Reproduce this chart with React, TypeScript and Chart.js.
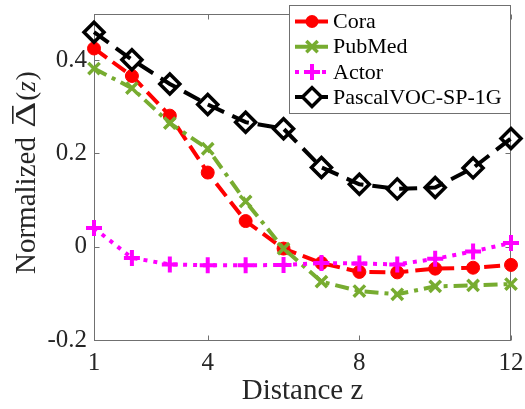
import React, { useEffect, useRef } from 'react';
import { Chart, registerables } from 'chart.js';

Chart.register(...registerables);

const distances = [1, 2, 3, 4, 5, 6, 7, 8, 9, 10, 11, 12];
const cora = [0.425, 0.366, 0.281, 0.159, 0.055, -0.004, -0.035, -0.054, -0.055, -0.047, -0.045, -0.039];
const pubmed = [0.382, 0.34, 0.265, 0.21, 0.097, -0.004, -0.075, -0.095, -0.102, -0.085, -0.083, -0.08];
const actor = [0.04, -0.024, -0.038, -0.04, -0.04, -0.039, -0.035, -0.036, -0.038, -0.026, -0.01, 0.008];
const pascal = [0.46, 0.401, 0.349, 0.305, 0.267, 0.253, 0.17, 0.134, 0.124, 0.127, 0.169, 0.232];
const xTicks = [1, 4, 8, 12];
const yTicks = [-0.2, 0, 0.2, 0.4];
const seriesNames = ['Cora', 'PubMed', 'Actor', 'PascalVOC-SP-1G'];

const SERIF = '"Liberation Serif", "DejaVu Serif", "Noto Serif", serif';
const AXIS = '#707070';
const TEXT = '#262626';

type Marker = 'circle' | 'crossRot' | 'cross' | 'rectRot';

function drawMarker(ctx: CanvasRenderingContext2D, style: Marker, x: number, y: number, r: number, color: string, lw: number) {
  ctx.save();
  ctx.setLineDash([]);
  ctx.strokeStyle = color;
  ctx.fillStyle = color;
  ctx.lineWidth = lw;
  ctx.beginPath();
  if (style === 'circle') {
    ctx.arc(x, y, r, 0, Math.PI * 2);
    ctx.fill();
  } else if (style === 'cross') {
    ctx.moveTo(x - r, y); ctx.lineTo(x + r, y);
    ctx.moveTo(x, y - r); ctx.lineTo(x, y + r);
    ctx.stroke();
  } else if (style === 'crossRot') {
    const d = r * Math.SQRT1_2;
    ctx.moveTo(x - d, y - d); ctx.lineTo(x + d, y + d);
    ctx.moveTo(x - d, y + d); ctx.lineTo(x + d, y - d);
    ctx.stroke();
  } else {
    ctx.moveTo(x - r, y); ctx.lineTo(x, y - r); ctx.lineTo(x + r, y); ctx.lineTo(x, y + r);
    ctx.closePath();
    ctx.stroke();
  }
  ctx.restore();
}

const framePlugin = {
  id: 'frame',
  beforeDatasetsDraw(chart: any) {
    const { ctx, chartArea } = chart;
    const { left, right, top, bottom } = chartArea;
    const L = Math.round(left) + 0.5, R = Math.round(right) - 0.5;
    const T = Math.round(top) + 0.5, B = Math.round(bottom) + 0.5;
    ctx.save();
    ctx.strokeStyle = AXIS;
    ctx.lineWidth = 1;
    ctx.setLineDash([]);
    ctx.strokeRect(L, T, R - L, B - T);
    const xs = chart.scales.x, ys = chart.scales.y;
    ctx.beginPath();
    for (const v of xTicks) {
      const px = Math.round(xs.getPixelForValue(v)) + 0.5;
      ctx.moveTo(px, B); ctx.lineTo(px, B - 5);
      ctx.moveTo(px, T); ctx.lineTo(px, T + 5);
    }
    for (const v of yTicks) {
      const py = Math.round(ys.getPixelForValue(v)) + 0.5;
      ctx.moveTo(L, py); ctx.lineTo(L + 5, py);
      ctx.moveTo(R, py); ctx.lineTo(R - 5, py);
    }
    ctx.stroke();
    ctx.restore();
  },
  afterDraw(chart: any) {
    const { ctx } = chart;
    // y-axis title
    ctx.save();
    ctx.fillStyle = TEXT;
    ctx.translate(35, 274);
    ctx.rotate(-Math.PI / 2);
    ctx.textAlign = 'left';
    ctx.textBaseline = 'alphabetic';
    ctx.font = `29px ${SERIF}`;
    let xPos = 0;
    const t1 = 'Normalized ';
    ctx.fillText(t1, xPos, 0);
    xPos += ctx.measureText(t1).width + 2;
    ctx.save();
    ctx.translate(xPos, 0);
    ctx.scale(1.35, 1);
    ctx.font = `30px ${SERIF}`;
    ctx.fillText('Δ', 0, 0);
    const dw = ctx.measureText('Δ').width;
    ctx.restore();
    const dW = dw * 1.35;
    ctx.fillRect(xPos + 4, -23, dW - 8, 1.6);
    xPos += dW + 1;
    ctx.font = `27px ${SERIF}`;
    ctx.fillText('(', xPos, 0);
    xPos += ctx.measureText('(').width;
    ctx.font = `italic 27px ${SERIF}`;
    ctx.fillText('z', xPos, 0);
    xPos += ctx.measureText('z').width + 1;
    ctx.font = `27px ${SERIF}`;
    ctx.fillText(')', xPos, 0);
    ctx.restore();

    // legend
    ctx.save();
    ctx.fillStyle = '#ffffff';
    ctx.fillRect(289.5, 5.5, 221, 108);
    ctx.strokeStyle = AXIS;
    ctx.lineWidth = 1;
    ctx.strokeRect(289.5, 5.5, 221, 108);
    const datasets = chart.data.datasets;
    datasets.forEach((ds: any, i: number) => {
      const y = 21.5 + i * 25.2;
      ctx.save();
      ctx.strokeStyle = ds.borderColor;
      ctx.lineWidth = 4;
      ctx.setLineDash(ds.legendDash || []);
      ctx.beginPath();
      ctx.moveTo(295, y);
      ctx.lineTo(328, y);
      ctx.stroke();
      ctx.restore();
      if (ds.pointStyle === 'rectRot') {
        ctx.fillStyle = '#fff';
        ctx.fillRect(303, y - 6, 16, 12);
      }
      drawMarker(ctx, ds.pointStyle, 312, y, ds.legendRadius, ds.borderColor, ds.pointBorderWidth);
      ctx.fillStyle = '#000';
      ctx.font = `22px ${SERIF}`;
      ctx.textBaseline = 'middle';
      ctx.textAlign = 'left';
      ctx.fillText(ds.label, 333, y + 1);
    });
    ctx.restore();
  },
};

export default function App() {
  const ref = useRef<HTMLCanvasElement | null>(null);
  useEffect(() => {
    let chart: Chart | null = null;
    let cancelled = false;
    const build = () => {
      if (cancelled || !ref.current) return;
      const mk = (data: number[]) => data.map((v, i) => ({ x: distances[i], y: v }));
      chart = new Chart(ref.current, {
        type: 'line',
        data: {
          datasets: [
            {
              label: seriesNames[0], data: mk(cora), borderColor: '#ff0000', backgroundColor: '#ff0000',
              borderWidth: 4, borderDash: [16, 7], pointStyle: 'circle', pointRadius: 6.5, pointBorderWidth: 1,
              pointBackgroundColor: '#ff0000', order: 3, clip: false, legendDash: [], legendRadius: 6.5,
            } as any,
            {
              label: seriesNames[1], data: mk(pubmed), borderColor: '#77ac30', backgroundColor: '#77ac30',
              borderWidth: 4, borderDash: [14, 6, 4, 6], pointStyle: 'crossRot', pointRadius: 8, pointBorderWidth: 3.5,
              order: 2, clip: false, legendDash: [], legendRadius: 8,
            } as any,
            {
              label: seriesNames[2], data: mk(actor), borderColor: '#ff00ff', backgroundColor: '#ff00ff',
              borderWidth: 4, borderDash: [4, 6], pointStyle: 'cross', pointRadius: 8, pointBorderWidth: 4,
              order: 1, clip: false, legendDash: [4, 5], legendRadius: 8,
            } as any,
            {
              label: seriesNames[3], data: mk(pascal), borderColor: '#000000', backgroundColor: 'rgba(0,0,0,0)',
              borderWidth: 4, borderDash: [18, 9], pointStyle: 'rectRot', pointRadius: 10, pointBorderWidth: 3.5,
              pointBackgroundColor: 'rgba(0,0,0,0)', order: 0, clip: false, legendDash: [], legendRadius: 9.5,
            } as any,
          ],
        },
        options: {
          responsive: false,
          animation: false,
          devicePixelRatio: 1,
          layout: { padding: { left: 0, right: 14, top: 5, bottom: 0 } },
          plugins: { legend: { display: false }, tooltip: { enabled: false } },
          elements: { line: { tension: 0 } },
          scales: {
            x: {
              type: 'linear', min: 1, max: 12,
              afterBuildTicks: (s: any) => { s.ticks = xTicks.map((v) => ({ value: v })); },
              afterFit: (s: any) => { s.height = 69; s.paddingLeft = 0; s.paddingRight = 0; },
              grid: { display: false, drawTicks: false },
              border: { display: false },
              ticks: {
                color: TEXT, font: { family: SERIF, size: 25 }, padding: 8, maxRotation: 0, autoSkip: false,
                callback: (v: any) => String(v),
              },
              title: { display: true, text: 'Distance z', color: TEXT, font: { family: SERIF, size: 29 }, padding: { top: 0, bottom: 0 } },
            },
            y: {
              type: 'linear', min: -0.2, max: 0.5,
              afterBuildTicks: (s: any) => { s.ticks = yTicks.map((v) => ({ value: v })); },
              afterFit: (s: any) => { s.width = 94; s.paddingTop = 0; s.paddingBottom = 0; },
              grid: { display: false, drawTicks: false },
              border: { display: false },
              ticks: {
                color: TEXT, font: { family: SERIF, size: 25 }, padding: 7, autoSkip: false,
                callback: (v: any) => (Math.abs(v) < 1e-9 ? '0' : String(Math.round(v * 10) / 10)),
              },
            },
          },
        } as any,
        plugins: [framePlugin],
      });
    };
    const fonts: any = (document as any).fonts;
    if (fonts && fonts.load) {
      Promise.all([
        fonts.load('25px "Liberation Serif"'),
        fonts.load('italic 25px "Liberation Serif"'),
      ]).then(build, build);
    } else {
      build();
    }
    return () => { cancelled = true; if (chart) chart.destroy(); };
  }, []);
  return (
    <div style={{ position: 'absolute', left: 0, top: 0, width: 525, height: 409, background: '#fff' }}>
      <canvas ref={ref} width={525} height={409} style={{ width: 525, height: 409, display: 'block' }} />
    </div>
  );
}
